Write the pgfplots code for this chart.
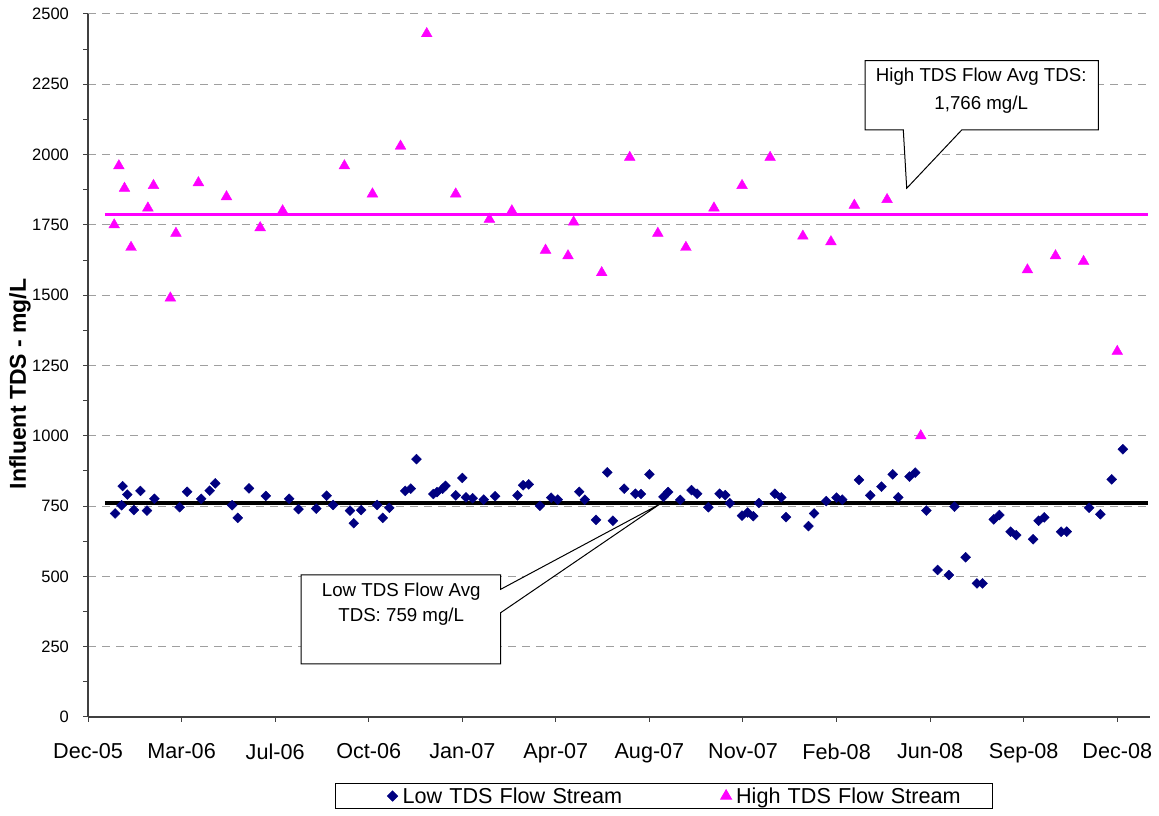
\documentclass[border=0pt]{standalone}
\usepackage{pgfplots}
\pgfplotsset{compat=1.18}
\usepackage{fontspec}
\setmainfont{Liberation Sans}
\definecolor{navy}{HTML}{000080}
\definecolor{mag}{HTML}{FF00FF}
\begin{document}
\begin{tikzpicture}
\path[use as bounding box] (0pt,0pt) rectangle (1159pt,816pt);
\begin{axis}[
  at={(88pt,99pt)}, anchor=south west,
  scale only axis, width=1062pt, height=703pt,
  xmin=0, xmax=1135, ymin=0, ymax=2500,
  axis lines=left,
  axis line style={-, line width=1.3pt, color=black!75},
  xtick={0,100,...,1100},
  xticklabels={Dec-05,Mar-06,Jul-06,Oct-06,Jan-07,Apr-07,Aug-07,Nov-07,Feb-08,Jun-08,Sep-08,Dec-08},
  ytick={0,250,...,2500},
  minor y tick num=1,
  tick align=outside,
  major tick length=5pt, minor tick length=5pt,
  tick style={color=black!75, line width=1pt},
  ymajorgrids,
  major grid style={dash pattern=on 8pt off 6pt, color=gray!75, line width=1pt},
  /pgf/number format/assume math mode=true,
  /pgf/number format/1000 sep={},
  yticklabel style={font=\fontsize{16.5}{20}\selectfont, xshift=-10.6pt},
  xticklabel style={font=\fontsize{21.6}{26}\selectfont, yshift=-18pt},
  ylabel={Influent TDS - mg/L},
  every axis y label/.style={at={(axis description cs:-0.064,0.4737)}, anchor=center, rotate=90, font=\fontsize{23}{28}\selectfont\bfseries},
  legend columns=2,
  legend image code/.code={\path[draw=none,fill=none] (-57pt,-1pt) rectangle (8pt,1pt); \draw[#1] plot coordinates {(0pt,0pt)};},
  legend style={at={(0.2326,-0.0939)}, anchor=north west, draw=black, line width=1pt,
    inner xsep=0pt, inner ysep=2pt, font=\fontsize{21.6}{26}\selectfont,
    /tikz/column 2/.style={text width=264.6pt, align=left},
    /tikz/column 4/.style={text width=254.6pt, align=left}},
]
\addplot[mag, line width=2.7pt, forget plot] coordinates {(18,1787) (1133,1787)};
\addplot[black, line width=4pt, forget plot] coordinates {(18,760) (1133,760)};
\addplot[only marks, mark=square*, mark size=3.5pt, mark options={rotate=45, fill=navy, draw=navy}, color=navy] table {
x y
29 724
36 753
37 821
42 791
49 736
56 804
63 734
71 776
98 746
106 801
121 776
130 805
136 831
154 753
160 708
172 813
190 786
215 776
225 739
244 741
255 787
262 754
280 734
284 689
292 736
309 754
315 708
322 744
339 804
345 812
351 917
369 793
373 800
379 812
382 822
393 788
400 850
404 781
411 778
423 773
435 785
459 788
465 824
471 827
483 751
495 780
502 773
525 801
531 773
543 701
555 870
561 698
573 812
585 794
591 793
600 863
615 783
620 800
633 772
645 807
651 794
663 746
675 794
681 789
686 760
699 716
705 727
711 714
717 761
734 794
741 781
746 711
770 679
776 724
789 768
800 780
806 773
824 843
836 788
848 819
860 863
866 781
878 855
884 869
896 734
908 523
920 505
926 748
938 568
950 475
956 475
968 703
974 718
986 659
992 647
1010 632
1016 698
1022 710
1040 659
1046 659
1070 744
1082 721
1094 845
1106 952
};
\addlegendentry{Low TDS Flow Stream}
\addplot[only marks, mark=triangle*, mark size=6.2pt, color=mag, mark options={fill=mag, draw=mag}] table {
x y
28 1750
33 1960
39 1880
46 1670
64 1810
70 1890
88 1490
94 1720
118 1900
148 1850
184 1740
208 1800
274 1960
304 1860
334 2030
362 2430
393 1860
429 1770
453 1800
489 1660
513 1640
519 1760
549 1580
579 1990
609 1720
639 1670
669 1810
699 1890
729 1990
764 1710
794 1690
819 1820
854 1840
890 1000
1004 1590
1034 1640
1064 1620
1100 1300
};
\addlegendentry{High TDS Flow Stream}
\end{axis}
% callout: high average
\draw[black, line width=1pt, fill=white] (865pt,755.3pt) -- (1098.3pt,755.3pt) -- (1098.3pt,686pt) -- (961.7pt,686pt) -- (906.7pt,627.7pt) -- (903.3pt,686pt) -- (865pt,686pt) -- cycle;
\node[anchor=base, inner sep=0pt, font=\fontsize{18.7}{22}\selectfont] at (981.2pt,734.3pt) {High TDS Flow Avg TDS:};
\node[anchor=base, inner sep=0pt, font=\fontsize{18.7}{22}\selectfont] at (981.2pt,706pt) {1,766 mg/L};
% callout: low average
\draw[black, line width=1pt, fill=white] (301pt,241pt) -- (500.7pt,241pt) -- (500.7pt,226.7pt) -- (660pt,312pt) -- (500.7pt,203.3pt) -- (500.7pt,152pt) -- (301pt,152pt) -- cycle;
\node[anchor=base, inner sep=0pt, font=\fontsize{18.7}{22}\selectfont] at (401.2pt,219.3pt) {Low TDS Flow Avg};
\node[anchor=base, inner sep=0pt, font=\fontsize{18.7}{22}\selectfont] at (401.2pt,194.3pt) {TDS: 759 mg/L};
\end{tikzpicture}
\end{document}
